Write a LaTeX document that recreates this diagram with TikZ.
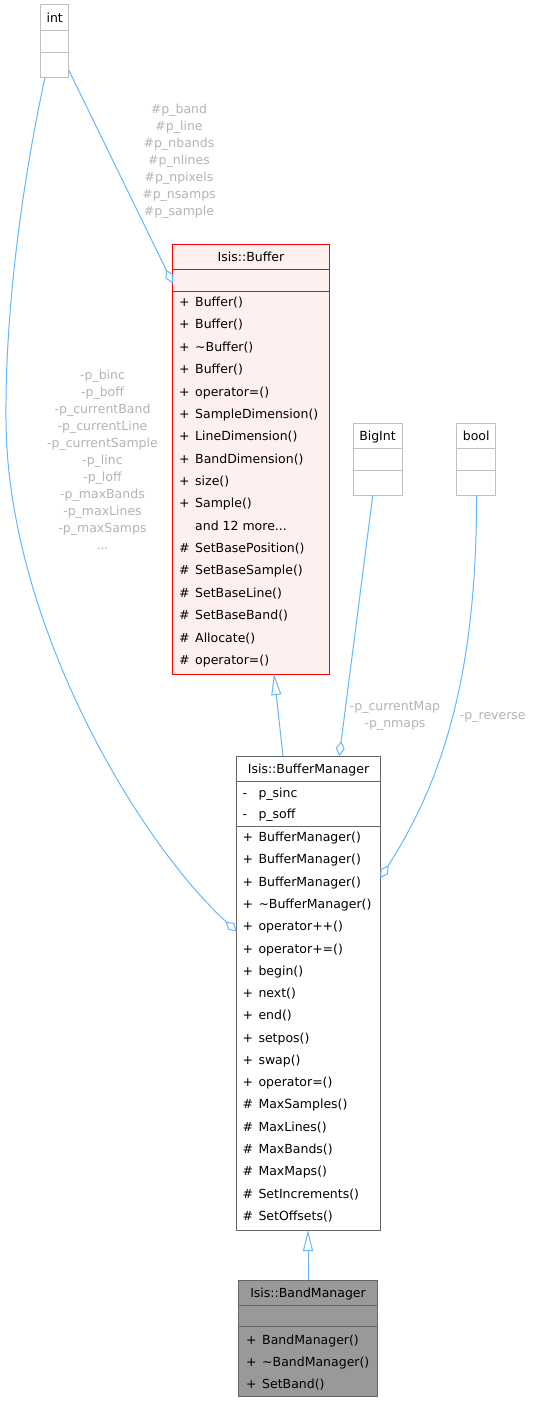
\documentclass[tikz,border=0pt]{standalone}
\usepackage{fontspec}
\setmainfont{DejaVu Sans}
\usetikzlibrary{arrows.meta,calc}
\definecolor{edgeblue}{HTML}{63B8FF}
\definecolor{lblgrey}{HTML}{B4B4B4}
\definecolor{boxgrey}{HTML}{BFBFBF}
\definecolor{darkline}{HTML}{666666}
\definecolor{buffill}{HTML}{FFF0F0}
\definecolor{bandfill}{HTML}{999999}
\newcommand\vis[1]{\makebox[16pt][l]{#1}}
\newcommand\tdots{...}
\begin{document}
\begin{tikzpicture}[x=1pt,y=-1pt,
  classbox/.style={draw, line width=1pt, inner sep=0pt, outer sep=0pt, anchor=north west, rectangle},
  txt/.style={anchor=base west, inner sep=0pt, font=\fontsize{12.5}{15}\selectfont},
  hdr/.style={anchor=base, inner sep=0pt, font=\fontsize{12.5}{15}\selectfont},
  lbl/.style={anchor=base, inner sep=0pt, text=lblgrey, font=\fontsize{12.5}{15}\selectfont},
  assoc/.style={draw=edgeblue, line width=1pt, -{Diamond[open, length=15pt, width=9pt]}},
  inh/.style={draw=edgeblue, line width=1pt, -{Triangle[open, length=21pt, width=10pt]}}]
\useasboundingbox (0,0) rectangle (533,1402);
\fill[white] (0,0) rectangle (533,1402);

% int
\node[classbox, draw=boxgrey, fill=white, minimum width=28pt, minimum height=72.3pt] (int) at (40.7,5) {};
\draw[boxgrey, line width=1pt] ($(int.north west)+(0,25.3)$) -- ($(int.north east)+(0,25.3)$);
\draw[boxgrey, line width=1pt] ($(int.north west)+(0,47.3)$) -- ($(int.north east)+(0,47.3)$);
\node[hdr] (inthdr) at (54.7,22.3) {int};

% Buffer
\node[classbox, draw=red, fill=buffill, minimum width=156.6pt, minimum height=429.3pt] (buffer) at (172.7,244.7) {};
\draw[red, line width=1pt] ($(buffer.north west)+(0,24.6)$) -- ($(buffer.north east)+(0,24.6)$);
\draw[red, line width=1pt] ($(buffer.north west)+(0,47)$) -- ($(buffer.north east)+(0,47)$);
\node[hdr] (bufhdr) at (251,261.6) {Isis::Buffer};
\foreach \t [count=\i from 0] in {{\vis{+}Buffer()},{\vis{+}Buffer()},{\vis{+}\textasciitilde Buffer()},{\vis{+}Buffer()},{\vis{+}operator=()},{\vis{+}SampleDimension()},{\vis{+}LineDimension()},{\vis{+}BandDimension()},{\vis{+}size()},{\vis{+}Sample()},{\vis{}and 12 more\tdots},{\vis{\#}SetBasePosition()},{\vis{\#}SetBaseSample()},{\vis{\#}SetBaseLine()},{\vis{\#}SetBaseBand()},{\vis{\#}Allocate()},{\vis{\#}operator=()}}
  \node[txt] (bfm\i) at (179,306.6+22.36*\i) {\t};

% BigInt
\node[classbox, draw=boxgrey, fill=white, minimum width=49pt, minimum height=72.4pt] (bigint) at (353,423.3) {};
\draw[boxgrey, line width=1pt] ($(bigint.north west)+(0,25)$) -- ($(bigint.north east)+(0,25)$);
\draw[boxgrey, line width=1pt] ($(bigint.north west)+(0,47.4)$) -- ($(bigint.north east)+(0,47.4)$);
\node[hdr] (biginthdr) at (377.5,440.4) {BigInt};

% bool
\node[classbox, draw=boxgrey, fill=white, minimum width=39pt, minimum height=72.4pt] (bool) at (456.7,423.3) {};
\draw[boxgrey, line width=1pt] ($(bool.north west)+(0,25)$) -- ($(bool.north east)+(0,25)$);
\draw[boxgrey, line width=1pt] ($(bool.north west)+(0,47.4)$) -- ($(bool.north east)+(0,47.4)$);
\node[hdr] (boolhdr) at (476.2,440.4) {bool};

% BufferManager
\node[classbox, draw=darkline, fill=white, minimum width=143.6pt, minimum height=474pt] (bm) at (236.7,756) {};
\draw[darkline, line width=1pt] ($(bm.north west)+(0,25.7)$) -- ($(bm.north east)+(0,25.7)$);
\draw[darkline, line width=1pt] ($(bm.north west)+(0,70)$) -- ($(bm.north east)+(0,70)$);
\node[hdr] (bmhdr) at (308.5,773.5) {Isis::BufferManager};
\node[txt] (bma0) at (242.3,797) {\vis{-}p\_sinc};
\node[txt] (bma1) at (242.3,818.7) {\vis{-}p\_soff};
\foreach \t [count=\i from 0] in {{\vis{+}BufferManager()},{\vis{+}BufferManager()},{\vis{+}BufferManager()},{\vis{+}\textasciitilde BufferManager()},{\vis{+}operator++()},{\vis{+}operator+=()},{\vis{+}begin()},{\vis{+}next()},{\vis{+}end()},{\vis{+}setpos()},{\vis{+}swap()},{\vis{+}operator=()},{\vis{\#}MaxSamples()},{\vis{\#}MaxLines()},{\vis{\#}MaxBands()},{\vis{\#}MaxMaps()},{\vis{\#}SetIncrements()},{\vis{\#}SetOffsets()}}
  \node[txt] (bmm\i) at (242.3,841.6+22.28*\i) {\t};

% BandManager
\node[classbox, draw=darkline, fill=bandfill, minimum width=139.4pt, minimum height=116pt] (band) at (238.3,1280) {};
\draw[darkline, line width=1pt] ($(band.north west)+(0,25)$) -- ($(band.north east)+(0,25)$);
\draw[darkline, line width=1pt] ($(band.north west)+(0,46.7)$) -- ($(band.north east)+(0,46.7)$);
\node[hdr] (bandhdr) at (308,1297.1) {Isis::BandManager};
\foreach \t [count=\i from 0] in {{\vis{+}BandManager()},{\vis{+}\textasciitilde BandManager()},{\vis{+}SetBand()}}
  \node[txt] (bandm\i) at (246,1344.3+22*\i) {\t};

% connectors
\draw[assoc] ($(int.south east)+(0,-7.3)$) -- ($(buffer.north west)+(0,38.5)$);
\draw[assoc] ($(int.south west)+(4.3,0)$) .. controls (25,170) and (5,300) .. (6,420) .. controls (7,620) and (136,839) .. ($(bm.north west)+(0,175.5)$);
\draw[assoc] ($(bigint.south)+(-4.8,0)$) -- ($(bm.north)+(30.8,0)$);
\draw[assoc] ($(bool.south)+(0.3,0)$) .. controls (477,680) and (440,785) .. ($(bm.north east)+(0,122)$);
\draw[inh] ($(bm.north)+(-25.5,0)$) -- ($(buffer.south)+(23,0)$);
\draw[inh] (band.north) -- (band.north |- bm.south);

% labels
\foreach \t [count=\i from 0] in {\#p\_band,\#p\_line,\#p\_nbands,\#p\_nlines,\#p\_npixels,\#p\_nsamps,\#p\_sample}
  \node[lbl] (la\i) at (179,113.3+17.07*\i) {\t};
\foreach \t [count=\i from 0] in {-p\_binc,-p\_boff,-p\_currentBand,-p\_currentLine,-p\_currentSample,-p\_linc,-p\_loff,-p\_maxBands,-p\_maxLines,-p\_maxSamps,\tdots}
  \node[lbl] (lb\i) at (102.5,379+17*\i) {\t};
\node[lbl] (lc0) at (395,710.7) {-p\_currentMap};
\node[lbl] (lc1) at (395,727.4) {-p\_nmaps};
\node[lbl] (ld0) at (492.8,719.3) {-p\_reverse};
\end{tikzpicture}
\end{document}
